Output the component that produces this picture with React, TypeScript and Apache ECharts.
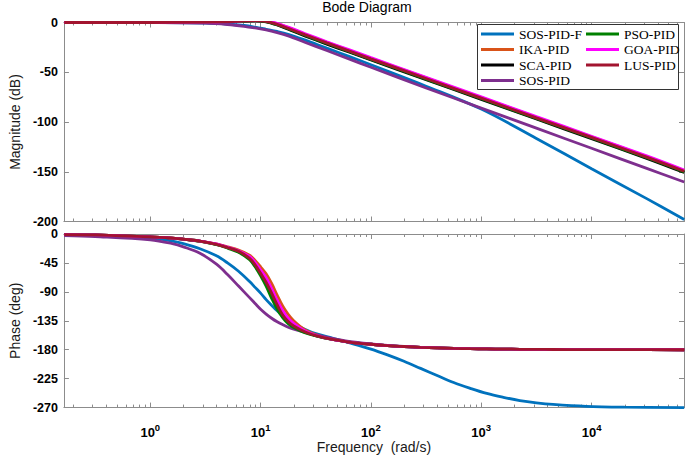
import React, { useEffect, useRef } from "react";
import * as echarts from "echarts";

// ---------- data (frequency given as log10(rad/s)) ----------
const seriesNames = ["SOS-PID-F", "IKA-PID", "SCA-PID", "SOS-PID", "PSO-PID", "GOA-PID", "LUS-PID"];
const seriesColors = ["#0072BD", "#D95319", "#000000", "#7E2F8E", "#008000", "#FF00FF", "#A2142F"];
const legendCol1 = ["SOS-PID-F", "IKA-PID", "SCA-PID", "SOS-PID"];
const legendCol2 = ["PSO-PID", "GOA-PID", "LUS-PID"];

const freqExpMin = -0.783;
const freqExpMax = 4.838;
const majorTickExps = [0, 1, 2, 3, 4];

// Magnitude (dB)
const magW = [-0.78, -0.5, 0, 0.5, 0.7, 0.85, 0.95, 1.05, 1.15, 1.25, 1.4, 1.6, 1.8, 2, 2.5, 3, 3.5, 4, 4.5, 4.84];
const magSOSPIDF = [0, 0, -0.1, -0.5, -1.5, -3, -4.7, -6.8, -9, -11.8, -17.5, -25.8, -34, -42.5, -64, -87, -116.5, -147, -177, -198];
const magIKA = [0, 0, 0, 0.3, 0.8, 1.7, 2.2, 1.5, -1.2, -5.2, -11.6, -19.9, -27.9, -35.9, -55.7, -75.4, -95.2, -114.9, -134.7, -148.9];
const magSCA = [0, 0, 0, 0.3, 0.7, 1.4, 1.7, 0.7, -2.5, -6.8, -13.4, -21.7, -29.7, -37.7, -57.5, -77.2, -97, -116.7, -136.5, -150.8];
const magSOS = [0, 0, -0.1, -0.7, -2, -3.8, -5.5, -7.5, -10.2, -13.5, -19.8, -28.2, -36.6, -45, -65.8, -86, -106.2, -126.4, -146.6, -160.3];
const magPSO = [0, 0, 0, 0.3, 0.8, 1.5, 1.8, 0.9, -2.2, -6.3, -12.8, -21.1, -29.1, -37.1, -56.9, -76.6, -96.4, -116.1, -135.9, -150.1];
const magGOA = [0, 0, 0, 0.3, 0.9, 1.8, 2.4, 1.8, -0.8, -4.7, -11, -19.3, -27.3, -35.3, -55.1, -74.8, -94.6, -114.3, -134.1, -148.3];
const magLUS = [0, 0, 0, 0.3, 0.8, 1.6, 2.0, 1.2, -1.8, -5.8, -12.2, -20.5, -28.5, -36.5, -56.3, -76, -95.8, -115.5, -135.3, -149.5];

// Phase (deg)
const phW = [-0.78, -0.5, 0, 0.2, 0.3, 0.45, 0.6, 0.7, 0.8, 0.9, 0.95, 1.0, 1.05, 1.1, 1.15, 1.2, 1.25, 1.3, 1.4, 1.5, 1.65, 1.8, 2.0, 2.15, 2.3, 2.45, 2.6, 2.75, 2.9, 3.05, 3.2, 3.35, 3.5, 3.65, 3.95, 4.3, 4.84];
const phSOSPIDF = [-1.5, -2.5, -6.5, -11, -15, -23, -34, -45, -58, -74, -83, -92, -102, -111, -119.5, -127, -133.5, -139, -148, -155, -162, -169, -179, -188, -198, -209, -220, -231, -240, -248, -254, -259, -262.5, -265, -268, -269.3, -270];
const phIKA = [-1, -1.5, -4.5, -6.5, -8, -11, -15.5, -20, -25, -33, -41, -51, -62, -77, -95, -112, -125, -135, -149, -156.5, -163.5, -168, -171.5, -173.5, -175, -176.2, -177, -177.8, -178.4, -178.8, -179.1, -179.3, -179.5, -179.6, -179.8, -179.9, -180];
const phSCA = [-1, -1.5, -4.5, -6.5, -8, -11, -16, -21, -27.5, -38.5, -49, -62, -77, -94, -112, -127, -137, -144, -152.5, -158, -164, -168, -171.5, -173.5, -175, -176.2, -177, -177.8, -178.4, -178.8, -179.1, -179.3, -179.5, -179.6, -179.8, -179.9, -180];
const phSOS = [-2.5, -4, -9, -15, -20, -30, -47, -63, -81, -99, -108, -117, -124.5, -131, -136.5, -141, -145, -148, -153, -157, -162.5, -167, -171, -173.3, -175, -176.2, -177, -177.8, -178.4, -178.8, -179.1, -179.3, -179.5, -179.6, -179.8, -179.9, -180];
const phPSO = [-1, -1.5, -4.5, -6.5, -8, -11.5, -16.5, -22, -28.5, -40, -51, -65, -81, -100, -117, -130, -139.5, -145.5, -153.5, -158.5, -164, -168, -171.5, -173.5, -175, -176.2, -177, -177.8, -178.4, -178.8, -179.1, -179.3, -179.5, -179.6, -179.8, -179.9, -180];
const phGOA = [-1, -1.5, -4.5, -6.5, -8, -11, -15.5, -20.5, -26, -35, -44, -56, -68, -85, -103, -119, -131, -139, -150.5, -157.5, -164, -168, -171.5, -173.5, -175, -176.2, -177, -177.8, -178.4, -178.8, -179.1, -179.3, -179.5, -179.6, -179.8, -179.9, -180];
const phLUS = [-1, -1.5, -4.5, -6.5, -8, -11, -16, -21, -27, -38, -48, -61, -75, -92, -110, -126, -136, -143, -152, -158, -164, -168, -171.5, -173.5, -175, -176.2, -177, -177.8, -178.4, -178.8, -179.1, -179.3, -179.5, -179.6, -179.8, -179.9, -180];

const magSeries = [magSOSPIDF, magIKA, magSCA, magSOS, magPSO, magGOA, magLUS];
const phSeries = [phSOSPIDF, phIKA, phSCA, phSOS, phPSO, phGOA, phLUS];

const SANS = "'Liberation Sans', Arial, Helvetica, sans-serif";
const SERIF = "'Liberation Serif', 'Times New Roman', serif";
const AXIS_GRAY = "#8c8c8c";

function minorTickList(): number[] {
  const out: number[] = [];
  for (let d = -1; d <= 4; d++) {
    for (let k = 2; k <= 9; k++) {
      const v = d + Math.log10(k);
      if (v > freqExpMin && v < freqExpMax) out.push(v);
    }
  }
  return out;
}

function xAxisDef(gridIndex: number, position: "top" | "bottom", minor: boolean, withLabels: boolean) {
  return {
    type: "value",
    gridIndex,
    position,
    min: freqExpMin,
    max: freqExpMax,
    axisLine: { show: !minor, onZero: false, lineStyle: { color: AXIS_GRAY, width: 1 } },
    axisTick: {
      show: true,
      inside: true,
      length: minor ? 3 : 5,
      customValues: minor ? minorTickList() : majorTickExps,
      lineStyle: { color: AXIS_GRAY, width: 1 },
    },
    axisLabel: withLabels
      ? {
          show: true,
          customValues: majorTickExps,
          margin: 15,
          formatter: (v: number) => `{b|10}{s|${Math.round(v)}}`,
          rich: {
            b: { fontSize: 13, fontWeight: "bold", fontFamily: SANS, color: "#000", lineHeight: 20 },
            s: { fontSize: 9.5, fontWeight: "bold", fontFamily: SANS, color: "#000", lineHeight: 9, verticalAlign: "top" },
          },
        }
      : { show: false },
    splitLine: { show: false },
    name: withLabels ? "Frequency  (rad/s)" : "",
    nameLocation: "middle",
    nameGap: 30,
    nameTextStyle: { fontSize: 14, fontFamily: SANS, color: "#1a1a1a" },
  };
}

function yAxisDef(gridIndex: number, position: "left" | "right", min: number, max: number, interval: number, name: string) {
  const left = position === "left";
  return {
    type: "value",
    gridIndex,
    position,
    min,
    max,
    interval,
    axisLine: { show: true, onZero: false, lineStyle: { color: AXIS_GRAY, width: 1 } },
    axisTick: { show: true, inside: true, length: 5, lineStyle: { color: AXIS_GRAY, width: 1 } },
    axisLabel: left
      ? { show: true, margin: 6, fontSize: 12.5, fontWeight: "bold", fontFamily: SANS, color: "#000" }
      : { show: false },
    splitLine: { show: false },
    name: left ? name : "",
    nameLocation: "middle",
    nameGap: 37,
    nameTextStyle: { fontSize: 14, fontFamily: SANS, color: "#1a1a1a" },
  };
}

export default function App() {
  const ref = useRef<HTMLDivElement>(null);

  useEffect(() => {
    if (!ref.current) return;
    const chart = echarts.init(ref.current, undefined, { renderer: "svg" });

    const series: any[] = [];
    seriesNames.forEach((name, i) => {
      series.push({
        name,
        type: "line",
        xAxisIndex: 0,
        yAxisIndex: 0,
        data: magW.map((w, j) => [w, magSeries[i][j]]),
        showSymbol: false,
        smooth: 0.35,
        silent: true,
        lineStyle: { color: seriesColors[i], width: 2.8 },
        itemStyle: { color: seriesColors[i] },
        emphasis: { disabled: true },
      });
    });
    seriesNames.forEach((name, i) => {
      series.push({
        name,
        type: "line",
        xAxisIndex: 4,
        yAxisIndex: 2,
        data: phW.map((w, j) => [w, phSeries[i][j]]),
        showSymbol: false,
        smooth: 0.35,
        silent: true,
        lineStyle: { color: seriesColors[i], width: 2.8 },
        itemStyle: { color: seriesColors[i] },
        emphasis: { disabled: true },
      });
    });

    const legendCommon = {
      orient: "vertical",
      padding: 0,
      itemWidth: 33,
      itemHeight: 3,
      itemGap: 0.5,
      icon: "rect",
      selectedMode: false,
      textStyle: { fontFamily: SERIF, fontSize: 13.5, color: "#000", lineHeight: 15 },
    };

    chart.setOption({
      animation: false,
      backgroundColor: "#ffffff",
      grid: [
        { left: 51, right: 1, top: 22.5, height: 199, containLabel: false },
        { left: 51, right: 1, top: 234, height: 174, containLabel: false },
      ],
      xAxis: [
        xAxisDef(0, "bottom", false, false),
        xAxisDef(0, "bottom", true, false),
        xAxisDef(0, "top", false, false),
        xAxisDef(0, "top", true, false),
        xAxisDef(1, "bottom", false, true),
        xAxisDef(1, "bottom", true, false),
        xAxisDef(1, "top", false, false),
        xAxisDef(1, "top", true, false),
      ],
      yAxis: [
        yAxisDef(0, "left", -200, 0, 50, "Magnitude (dB)"),
        yAxisDef(0, "right", -200, 0, 50, ""),
        yAxisDef(1, "left", -270, 0, 45, "Phase (deg)"),
        yAxisDef(1, "right", -270, 0, 45, ""),
      ],
      legend: [
        { ...legendCommon, left: 481, top: 26.5, data: legendCol1 },
        { ...legendCommon, left: 586, top: 26.5, data: legendCol2 },
      ],
      graphic: [
        {
          type: "rect",
          z: 3,
          shape: { x: 477.5, y: 24.5, width: 201, height: 65 },
          style: { fill: "#ffffff", stroke: "#333333", lineWidth: 1 },
          silent: true,
        },
        {
          type: "text",
          z: 5,
          x: 367,
          y: 7,
          style: {
            text: "Bode Diagram",
            fontSize: 14,
            fontFamily: SANS,
            fill: "#000",
            textAlign: "center",
            textVerticalAlign: "middle",
          },
          silent: true,
        },
      ],
      series,
    });

    return () => {
      chart.dispose();
    };
  }, []);

  return (
    <div
      ref={ref}
      style={{ position: "fixed", left: 0, top: 0, width: 685, height: 455, background: "#fff" }}
    />
  );
}
